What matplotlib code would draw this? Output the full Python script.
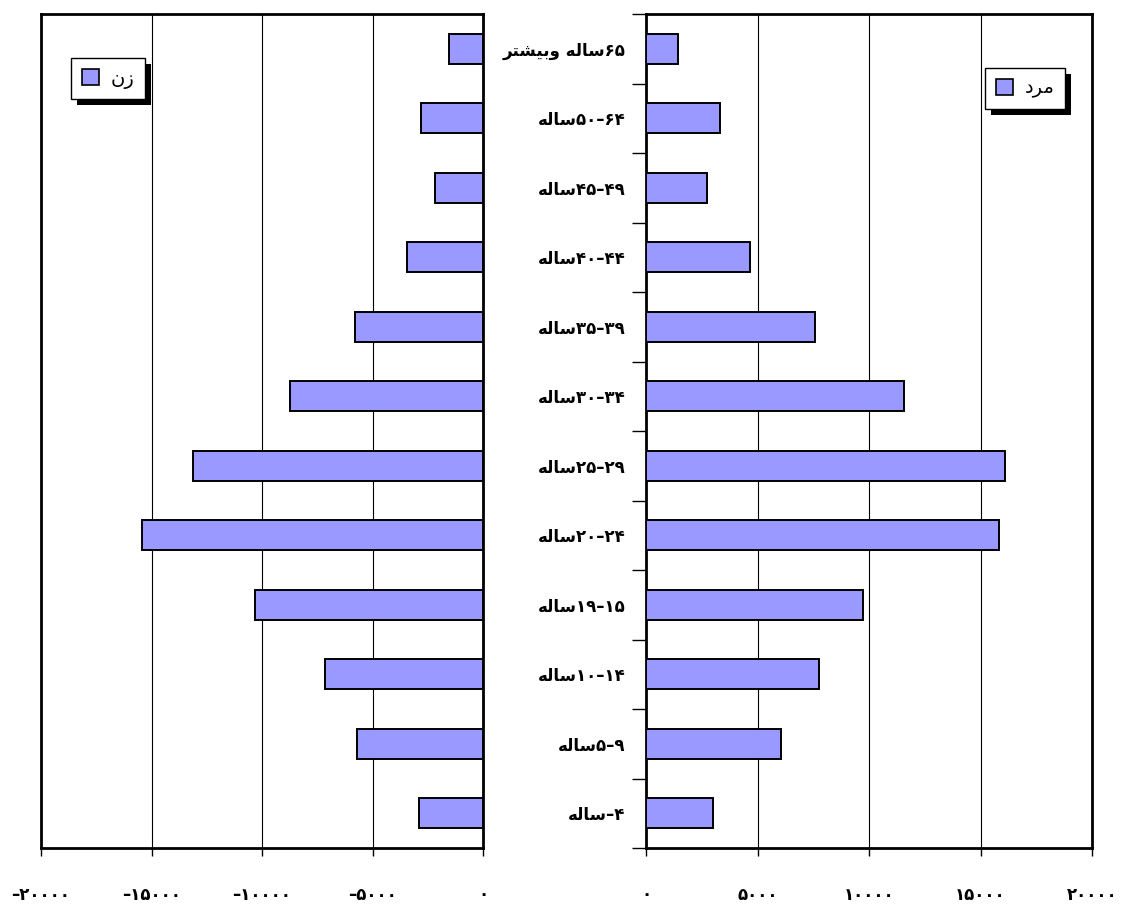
import matplotlib
matplotlib.use("Agg")
import matplotlib.pyplot as plt
from matplotlib.patches import Patch, Rectangle

plt.rcParams['font.family'] = ['DejaVu Sans']

# ---------------- data ----------------
# age groups from youngest (bottom) to oldest (top)
age_lower = [None, 5, 10, 19, 20, 25, 30, 35, 40, 45, 50, 65]
age_upper = [4, 9, 14, 15, 24, 29, 34, 39, 44, 49, 64, None]
men = [3000, 6050, 7750, 9750, 15850, 16100, 11550, 7600, 4650, 2750, 3300, 1450]
women = [2900, 5700, 7150, 10300, 15450, 13100, 8750, 5800, 3450, 2150, 2800, 1550]
left_ticks = [-20000, -15000, -10000, -5000, 0]
right_ticks = [0, 5000, 10000, 15000, 20000]
word_years = "ساله"
word_more = "وبیشتر"
legend_women = "زن"
legend_men = "مرد"

# ---------------- simple Persian shaping (matplotlib has no RTL shaping) -------
FORMS = {
    'ا': ('\uFE8D', '\uFE8E'),
    'ب': ('\uFE8F', '\uFE90', '\uFE91', '\uFE92'),
    'ت': ('\uFE95', '\uFE96', '\uFE97', '\uFE98'),
    'د': ('\uFEA9', '\uFEAA'),
    'ر': ('\uFEAD', '\uFEAE'),
    'ز': ('\uFEAF', '\uFEB0'),
    'س': ('\uFEB1', '\uFEB2', '\uFEB3', '\uFEB4'),
    'ش': ('\uFEB5', '\uFEB6', '\uFEB7', '\uFEB8'),
    'ل': ('\uFEDD', '\uFEDE', '\uFEDF', '\uFEE0'),
    'م': ('\uFEE1', '\uFEE2', '\uFEE3', '\uFEE4'),
    'ن': ('\uFEE5', '\uFEE6', '\uFEE7', '\uFEE8'),
    'ه': ('\uFEE9', '\uFEEA', '\uFEEB', '\uFEEC'),
    'و': ('\uFEED', '\uFEEE'),
    'ی': ('\uFEEF', '\uFEF0', '\uFEF3', '\uFEF4'),
}


def shape(word):
    out = []
    n = len(word)
    for i, ch in enumerate(word):
        f = FORMS[ch]
        prev_join = i > 0 and len(FORMS[word[i - 1]]) == 4
        next_join = len(f) == 4 and i < n - 1
        if prev_join and next_join:
            out.append(f[3])
        elif prev_join:
            out.append(f[1])
        elif next_join:
            out.append(f[2])
        else:
            out.append(f[0])
    return ''.join(reversed(out))


FA = str.maketrans('0123456789-', '۰۱۲۳۴۵۶۷۸۹–')


def fa(x):
    return str(x).translate(FA)


years_v = shape(word_years)
labels = []
for lo, hi in zip(age_lower, age_upper):
    if hi is None:
        labels.append(shape(word_more) + ' ' + years_v + fa(lo))
    elif lo is None:
        labels.append(years_v + '–' + fa(hi))
    else:
        labels.append(years_v + fa(lo) + '–' + fa(hi))

# ---------------- figure ----------------
W, H = 1122, 907
fig = plt.figure(figsize=(W / 100, H / 100), dpi=100)
bar_color = '#9999FF'
top, bot = 14, 848
axL = fig.add_axes([41 / W, 1 - bot / H, (483 - 41) / W, (bot - top) / H])
axR = fig.add_axes([646 / W, 1 - bot / H, (1092 - 646) / W, (bot - top) / H])

ypos = list(range(len(labels)))
bh = 0.43
axL.barh(ypos, [-v for v in women], height=bh, color=bar_color, edgecolor='black',
         linewidth=1.4, zorder=3)
axR.barh(ypos, men, height=bh, color=bar_color, edgecolor='black',
         linewidth=1.4, zorder=3)

for ax, ticks in ((axL, left_ticks), (axR, right_ticks)):
    ax.set_xlim(ticks[0], ticks[-1])
    ax.set_ylim(-0.5, len(labels) - 0.5)
    ax.set_xticks(ticks)
    ax.set_xticklabels([fa(t) for t in ticks], fontsize=12, fontweight='bold')
    ax.tick_params(axis='x', direction='out', length=6, width=1, pad=21, colors='black')
    ax.grid(axis='x', color='black', linewidth=0.8, zorder=0)
    ax.set_axisbelow(True)
    for s in ax.spines.values():
        s.set_linewidth(2)
        s.set_color('black')

axL.set_yticks([])
axR.set_yticks(ypos)
axR.set_yticklabels(labels, fontsize=12, fontweight='bold')
axR.tick_params(axis='y', which='major', length=0, pad=15)
axR.set_yticks([y - 0.5 for y in range(len(labels) + 1)], minor=True)
axR.tick_params(axis='y', which='minor', length=10, width=1, direction='out')

# ---------------- legends ----------------
legs = []
for lab, anchor in ((legend_women, (71 / W, 1 - 58 / H)), (legend_men, (985 / W, 1 - 68 / H))):
    h = Patch(facecolor=bar_color, edgecolor='black', linewidth=1.2)
    lg = fig.legend([h], [shape(lab)], loc='upper left', bbox_to_anchor=anchor,
                    fontsize=14, frameon=True, fancybox=False, borderaxespad=0,
                    handlelength=0.9, handleheight=0.9, handletextpad=0.6,
                    borderpad=0.55, edgecolor='black', facecolor='white',
                    framealpha=1)
    lg.get_frame().set_linewidth(1.0)
    lg.set_zorder(5)
    legs.append(lg)

fig.canvas.draw()
inv = fig.transFigure.inverted()
for lg in legs:
    bb = lg.get_window_extent()
    (x0, y0) = inv.transform((bb.x0 + 6, bb.y0 - 6))
    (x1, y1) = inv.transform((bb.x1 + 6, bb.y1 - 6))
    fig.add_artist(Rectangle((x0, y0), x1 - x0, y1 - y0, transform=fig.transFigure,
                             facecolor='black', edgecolor='none', zorder=4))

fig.savefig('out.png', dpi=100)
